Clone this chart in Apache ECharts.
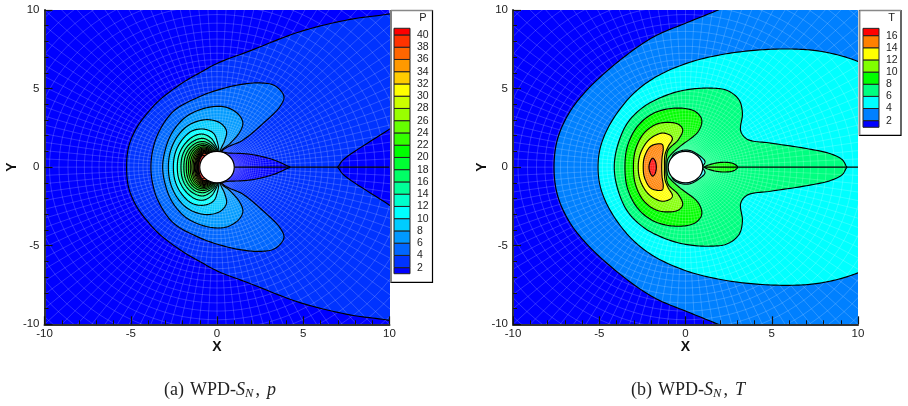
<!DOCTYPE html>
<html>
<head>
<meta charset="utf-8">
<style>html,body{margin:0;padding:0;background:#fff}#c{width:908px;height:406px}</style>
<script src="https://cdn.jsdelivr.net/npm/echarts@6/dist/echarts.min.js"></script>
</head>
<body>
<div id="c"></div>
<script>
// Upper halves of the pressure contours; the flow is symmetric about Y = 0.
const pLevel2 = [[-5.24,0],[-5.12,1.3],[-4.66,2.5],[-3.95,3.55],[-3.3,4.3],[-1.95,5.4],[-1,6.0],[0,6.6],[1.91,7.4],[4.81,8.62],[7.71,9.4],[10,9.75],[14,10.6]];
const pWedge = [[7.0,0],[7.08,0.12],[7.32,0.47],[10,2.42],[14,5.3]];
const pLens = [[0.1,0.9],[0.75,0.89],[1.4,0.87],[2.1,0.79],[3.27,0.47],[4.04,0.1],[4.23,0]];
const pLevel4 = [[-3.83,0],[-3.72,1.1],[-3.4,2.17],[-2.53,3.55],[-0.99,4.5],[0.17,4.95],[1.33,5.25],[2.49,5.36],[3.36,5.18],[3.88,4.5],[3.65,3.86],[2.69,2.8],[1.53,1.74],[0.25,0.95]];
const pLevel6 = [[-3.15,0],[-3.0,1.1],[-2.6,2.2],[-1.8,3.2],[-0.6,3.78],[0.5,3.82],[1.25,3.35],[1.5,2.8],[1.3,2.2],[0.75,1.5],[0.2,0.95]];
const pLevel8 = [[-2.82,0],[-2.7,1],[-2.3,1.95],[-1.6,2.7],[-0.6,3.02],[0.2,2.8],[0.55,2.3],[0.45,1.7],[0.17,0.95]];
const pLevel10 = [[-2.53,0],[-2.42,0.9],[-2.05,1.7],[-1.45,2.3],[-0.75,2.42],[-0.2,2.15],[0.02,1.6],[0.12,0.95]];
const pLevel12 = [[-2.3,0],[-2.2,0.8],[-1.85,1.5],[-1.3,2.0],[-0.8,2.1],[-0.35,1.85],[-0.1,1.45],[0.07,0.95]];
const pLevel14 = [[-2.09,0],[-2.0,0.75],[-1.7,1.35],[-1.25,1.72],[-0.8,1.83],[-0.4,1.62],[-0.12,1.3],[0.03,0.97]];
const pLevel16 = [[-1.92,0],[-1.84,0.7],[-1.58,1.22],[-1.18,1.55],[-0.75,1.62],[-0.4,1.45],[-0.15,1.2],[-0.02,0.97]];
const pLevel18 = [[-1.78,0],[-1.71,0.63],[-1.48,1.12],[-1.12,1.42],[-0.75,1.48],[-0.42,1.35],[-0.2,1.13],[-0.07,0.97]];
const pLevel20 = [[-1.66,0],[-1.6,0.58],[-1.4,1.03],[-1.08,1.31],[-0.75,1.38],[-0.45,1.27],[-0.25,1.08],[-0.12,0.97]];
const pLevel22 = [[-1.55,0],[-1.5,0.52],[-1.32,0.95],[-1.04,1.21],[-0.75,1.29],[-0.48,1.2],[-0.3,1.04],[-0.17,0.96]];
const pLevel24 = [[-1.46,0],[-1.41,0.48],[-1.26,0.88],[-1.0,1.14],[-0.75,1.22],[-0.5,1.14],[-0.34,1.0],[-0.22,0.95]];
const pLevel26 = [[-1.38,0],[-1.34,0.45],[-1.2,0.82],[-0.98,1.07],[-0.75,1.16],[-0.53,1.09],[-0.38,0.97],[-0.27,0.94]];
const pLevel28 = [[-1.31,0],[-1.27,0.42],[-1.15,0.77],[-0.96,1.01],[-0.75,1.11],[-0.56,1.04],[-0.42,0.94],[-0.32,0.92]];
const pLevel30 = [[-1.26,0],[-1.22,0.4],[-1.11,0.73],[-0.94,0.96],[-0.75,1.06],[-0.58,1.0],[-0.46,0.91],[-0.37,0.9]];
const pLevel32 = [[-1.21,0],[-1.18,0.37],[-1.08,0.69],[-0.92,0.91],[-0.76,1.0],[-0.6,0.96],[-0.5,0.88],[-0.42,0.88]];
const pLevel34 = [[-1.17,0],[-1.14,0.35],[-1.05,0.65],[-0.9,0.86],[-0.76,0.95],[-0.62,0.92],[-0.47,0.86]];
const pLevel36 = [[-1.13,0],[-1.1,0.32],[-1.02,0.61],[-0.88,0.82],[-0.76,0.9],[-0.64,0.87],[-0.52,0.83]];
const pLevel38 = [[-1.09,0],[-1.07,0.3],[-1.0,0.57],[-0.87,0.78],[-0.76,0.85],[-0.57,0.8]];
const pLevel40 = [[-1.06,0],[-1.04,0.28],[-0.97,0.53],[-0.85,0.73],[-0.7,0.7]];

// Upper halves of the temperature contours.
const tLevel2 = [[-7.62,0],[-7.43,1.74],[-6.75,3.44],[-5.69,4.93],[-3.76,6.84],[-1.83,8.3],[0.1,9.2],[1.94,10.02],[4,11],[9,14],[14,18]];
const tLevel4 = [[-5.07,0],[-4.92,1.32],[-4.34,2.8],[-3.18,4.5],[-1.83,5.67],[0.1,6.62],[2.04,7.15],[3.97,7.43],[5.9,7.52],[7.45,7.43],[8.8,7.15],[10,6.73],[12,5.8],[14,3]];
const tLevel6 = [[-4.13,0],[-3.95,1.32],[-3.37,2.8],[-2.4,3.86],[-1.05,4.6],[0.1,4.93],[1.46,5.03],[2.42,4.88],[3.1,4.29],[3.3,3.44],[3.2,2.3],[3.58,1.78],[4.94,1.53],[6.87,1.21],[8.41,0.85],[9.09,0.47],[9.3,0.1],[9.35,0]];
const tPatch = [[-0.75,0.72],[-0.3,1.03],[0.2,1.07],[0.65,0.85],[1.13,0.36],[1.0,0]];
const tLens = [[1.11,0],[1.6,0.22],[2.25,0.31],[2.8,0.22],[3.02,0]];
const tLevel8 = [[-3.51,0],[-3.37,1.32],[-2.79,2.59],[-1.83,3.44],[-0.51,3.76],[0.55,3.55],[0.94,3.02],[0.74,2.27],[-0.32,1.32],[-0.8,0.85],[-1.03,0.5],[-1.08,0]];
const tLevel10 = [[-3.02,0],[-2.9,1.1],[-2.45,2.1],[-1.75,2.7],[-1.0,2.85],[-0.4,2.72],[-0.16,2.38],[-0.42,1.74],[-1.0,1.1],[-1.12,0.55],[-1.14,0]];
const tLevel12 = [[-2.74,0],[-2.62,0.85],[-2.2,1.65],[-1.7,2.05],[-1.29,2.17],[-0.85,2.0],[-0.76,1.79],[-1,1.32],[-1.19,0.79],[-1.22,0]];
const tLevel14 = [[-2.45,0],[-2.38,0.65],[-2.05,1.3],[-1.67,1.47],[-1.35,1.45],[-1.29,1.2],[-1.36,0.6],[-1.38,0]];
const tLevel16 = [[-2.12,0],[-2.03,0.4],[-1.9,0.57],[-1.76,0.4],[-1.69,0]];

// Flood colours, lowest band first.
const pBandColors = ['#0000ff','#0033ff','#0066ff','#0099ff','#00ccff','#00ffff','#00ffcc','#00ff99','#00ff66','#00ff33','#00ff00','#33ff00','#66ff00','#99ff00','#ccff00','#ffff00','#ffcc00','#ff9900','#ff6600','#ff3300','#ff0000'];
const pLevels = [2,4,6,8,10,12,14,16,18,20,22,24,26,28,30,32,34,36,38,40];
const tBandColors = ['#0000ff','#0080ff','#00ffff','#00ff80','#00ff00','#80ff00','#ffff00','#ff8000','#ff0000'];
const tLevels = [2,4,6,8,10,12,14,16];

// Computational mesh: circle radii and spoke spacing of the O-grid.
const meshRadii = [1,1.06,1.12,1.19,1.26,1.34,1.42,1.5,1.59,1.69,1.79,1.9,2.01,2.13,2.26,2.4,2.54,2.69,2.85,3.03,3.21,3.4,3.6,3.82,4.05,4.29,4.55,4.82,5.11,5.42,5.75,6.09,6.46,6.84,7.25,7.69,8.15,8.64,9.16,9.71,10.3,10.9,11.6,12.3,13,13.8,14.6];
const meshSpokeStepDeg = 3;
const bodyRadius = 1;

// Painting order for the filled contours, outermost first.
const pShapes = [
  [pLevel2,1],[pWedge,0],[pLens,0],[pLevel4,2],[pLevel6,3],[pLevel8,4],[pLevel10,5],[pLevel12,6],[pLevel14,7],
  [pLevel16,8],[pLevel18,9],[pLevel20,10],[pLevel22,11],[pLevel24,12],[pLevel26,13],[pLevel28,14],[pLevel30,15],
  [pLevel32,16],[pLevel34,17],[pLevel36,18],[pLevel38,19],[pLevel40,20]
].map(([half,band]) => ({half,color:pBandColors[band]}));
const tShapes = [
  [tLevel2,1],[tLevel4,2],[tLevel6,3],[tPatch,2],[tLens,4],[tLevel8,4],[tLevel10,5],[tLevel12,6],[tLevel14,7],[tLevel16,8]
].map(([half,band]) => ({half,color:tBandColors[band]}));

// Closes an upper-half contour with its reflection below Y = 0.
function closeLoop(half){
  const lower = half.filter(p => p[1] !== 0).reverse().map(p => [p[0],-p[1]]);
  return half.concat(lower);
}

// Rounds a closed outline in pixel space with a centripetal Catmull-Rom curve.
function roundOutline(pts){
  const out = [], n = pts.length, lerp = (a,b,ta,tb,t) => [
    (a[0]*(tb-t)+b[0]*(t-ta))/(tb-ta), (a[1]*(tb-t)+b[1]*(t-ta))/(tb-ta)];
  for (let i = 0; i < n; i++) {
    const p0 = pts[(i+n-1)%n], p1 = pts[i], p2 = pts[(i+1)%n], p3 = pts[(i+2)%n];
    const t0 = 0, t1 = t0+Math.sqrt(Math.hypot(p1[0]-p0[0],p1[1]-p0[1])),
          t2 = t1+Math.sqrt(Math.hypot(p2[0]-p1[0],p2[1]-p1[1])),
          t3 = t2+Math.sqrt(Math.hypot(p3[0]-p2[0],p3[1]-p2[1]));
    for (let k = 0; k < 12; k++) {
      const t = t1+(t2-t1)*k/12;
      const a1 = lerp(p0,p1,t0,t1,t), a2 = lerp(p1,p2,t1,t2,t), a3 = lerp(p2,p3,t2,t3,t);
      const b1 = lerp(a1,a2,t0,t2,t), b2 = lerp(a2,a3,t1,t3,t);
      out.push(lerp(b1,b2,t1,t2,t));
    }
  }
  return out;
}
const outlinePixels = (half,api) => roundOutline(closeLoop(half).map(q=>api.coord(q)));

const meshLines = [];
meshRadii.forEach(r => {
  const ring = [];
  for (let a = 0; a <= 360; a += meshSpokeStepDeg) {
    ring.push([r*Math.cos(a*Math.PI/180), r*Math.sin(a*Math.PI/180)]);
  }
  meshLines.push(ring);
});
for (let a = 0; a < 360; a += meshSpokeStepDeg) {
  const c = Math.cos(a*Math.PI/180), s = Math.sin(a*Math.PI/180);
  meshLines.push([[c*meshRadii[0],s*meshRadii[0]],[c*15,s*15]]);
}
const indexData = n => Array.from({length:n},(_,i)=>[i]);

function fillSeries(idx, shapes){
  return {type:'custom',xAxisIndex:idx,yAxisIndex:idx,clip:true,silent:true,z:2,data:indexData(shapes.length),
    renderItem:(p,api)=>({type:'polygon',
      shape:{points:outlinePixels(shapes[p.dataIndex].half,api)},
      style:{fill:shapes[p.dataIndex].color,stroke:null}})};
}
function meshSeries(idx){
  return {type:'custom',xAxisIndex:idx,yAxisIndex:idx,clip:true,silent:true,z:2,data:indexData(meshLines.length),
    renderItem:(p,api)=>({type:'polyline',
      shape:{points:meshLines[p.dataIndex].map(q=>api.coord(q))},
      style:{fill:null,stroke:'rgba(255,255,255,0.26)',lineWidth:0.7}})};
}
function lineSeries(idx, shapes){
  return {type:'custom',xAxisIndex:idx,yAxisIndex:idx,clip:true,silent:true,z:2,data:indexData(shapes.length),
    renderItem:(p,api)=>({type:'polygon',
      shape:{points:outlinePixels(shapes[p.dataIndex].half,api)},
      style:{fill:null,stroke:'#000',lineWidth:1.15}})};
}
function wakeSeries(idx){
  return {type:'line',xAxisIndex:idx,yAxisIndex:idx,silent:true,z:2,symbol:'none',
    lineStyle:{color:'#000',width:1.15},data:[[bodyRadius,0],[10,0]]};
}
function bodySeries(idx){
  return {type:'custom',xAxisIndex:idx,yAxisIndex:idx,silent:true,z:3,data:[[0,0]],
    renderItem:(p,api)=>{
      const c = api.coord([0,0]), s = api.size([bodyRadius,bodyRadius]);
      return {type:'ellipse',shape:{cx:c[0],cy:c[1],rx:s[0],ry:s[1]},style:{fill:'#fff',stroke:'#000',lineWidth:1.15}};
    }};
}
function legendSeries(idx, levels, colors, lowEnd, highEnd){
  const edges = [lowEnd].concat(levels,[highEnd]);
  return {type:'custom',xAxisIndex:idx,yAxisIndex:idx,silent:true,z:7,data:indexData(colors.length),
    renderItem:(p,api)=>{
      const a = api.coord([0,edges[p.dataIndex]]), b = api.coord([1,edges[p.dataIndex+1]]);
      return {type:'rect',shape:{x:a[0],y:b[1],width:b[0]-a[0],height:a[1]-b[1]},
        style:{fill:colors[p.dataIndex],stroke:'#222',lineWidth:1}};
    }};
}

const tickLabel = {color:'#222',fontFamily:'Liberation Sans',fontSize:11.5};
const axisName = {color:'#111',fontFamily:'Liberation Sans',fontSize:14,fontWeight:'bold'};
function plotAxis(idx, name, gap, margin){
  return {type:'value',gridIndex:idx,min:-10,max:10,interval:5,z:4,name,nameLocation:'middle',nameGap:gap,nameMoveOverlap:false,nameTextStyle:axisName,
    axisLine:{show:true,onZero:false,lineStyle:{color:'#333',width:2}},
    axisTick:{show:true,inside:true,length:8,lineStyle:{color:'#111',width:1.2}},
    minorTick:{show:true,splitNumber:5,length:4,lineStyle:{color:'#111',width:1}},
    splitLine:{show:false},axisLabel:Object.assign({margin},tickLabel)};
}
function legendYAxis(idx, top){
  return {type:'value',gridIndex:idx,position:'right',min:0,max:top,interval:2,z:8,
    axisLine:{show:false},axisTick:{show:false},splitLine:{show:false},
    axisLabel:{margin:7,color:'#222',fontFamily:'Liberation Sans',fontSize:10.5,padding:[3,0,0,0],
      formatter:v => (v===0||v===top)?'':String(v)}};
}
const hiddenX = idx => ({type:'value',gridIndex:idx,min:0,max:1,show:false});

function legendFrame(x0,x1,y0,y1,letter){
  return [
    {type:'rect',z:5,silent:true,shape:{x:x0,y:y0,width:x1-x0,height:y1-y0},style:{fill:'#fff',stroke:'#000',lineWidth:1.2}},
    {type:'line',z:5,silent:true,shape:{x1:x0,y1:y0,x2:x1,y2:y0},style:{stroke:'#888',lineWidth:1.6}},
    {type:'line',z:5,silent:true,shape:{x1:x0,y1:y0,x2:x0,y2:y1},style:{stroke:'#888',lineWidth:1.6}},
    {type:'text',z:6,silent:true,x:x1-9.5,y:18,style:{text:letter,fill:'#222',font:'11px "Liberation Sans"',textAlign:'center',textVerticalAlign:'middle'}}
  ];
}
const serif = {fontFamily:'Liberation Serif',fontSize:18,color:'#222'};
const captionRich = {
  r:Object.assign({},serif),
  w:Object.assign({padding:[0,0,0,6]},serif),
  v:Object.assign({fontStyle:'italic'},serif),
  s:Object.assign({},serif,{fontSize:12.5,fontStyle:'italic',padding:[6,2,0,0]}),
  p:Object.assign({fontStyle:'italic',padding:[0,0,0,7]},serif)
};
const caption = (text,left) => ({text,left,top:376,textAlign:'center',textStyle:{rich:captionRich,fontFamily:'Liberation Serif',fontSize:18,fontWeight:'normal',color:'#222'}});

const chart = echarts.init(document.getElementById('c'),null,{renderer:'canvas'});
chart.setOption({
  animation:false,
  backgroundColor:'#fff',
  title:[
    caption('{r|(a)}{w|WPD-}{v|S}{s|N}{r|,}{p|p}',215),
    caption('{r|(b)}{w|WPD-}{v|S}{s|N}{r|,}{p|T}',683)
  ],
  grid:[
    {left:44.5,top:10,width:345,height:314.3,show:true,backgroundColor:pBandColors[0],borderWidth:0,z:0,outerBoundsMode:'none'},
    {left:513,top:10,width:345,height:314.3,show:true,backgroundColor:tBandColors[0],borderWidth:0,z:0,outerBoundsMode:'none'},
    {left:394,top:22.7,width:16,height:257.2,outerBoundsMode:'none'},
    {left:863,top:23.5,width:16,height:109.3,outerBoundsMode:'none'}
  ],
  xAxis:[plotAxis(0,'X',16,4),plotAxis(1,'X',16,4),hiddenX(2),hiddenX(3)],
  yAxis:[plotAxis(0,'Y',25,5),plotAxis(1,'Y',23.5,5),legendYAxis(2,42),legendYAxis(3,18)],
  graphic:{elements:legendFrame(391,432.5,10.5,282.3,'P').concat(legendFrame(859.5,901,10.5,135.3,'T'))},
  series:[
    fillSeries(0,pShapes),meshSeries(0),lineSeries(0,pShapes),wakeSeries(0),bodySeries(0),
    fillSeries(1,tShapes),meshSeries(1),lineSeries(1,tShapes),wakeSeries(1),bodySeries(1),
    legendSeries(2,pLevels,pBandColors,1.01,41.09),
    legendSeries(3,tLevels,tBandColors,0.91,17.2)
  ]
});
</script>
</body>
</html>
